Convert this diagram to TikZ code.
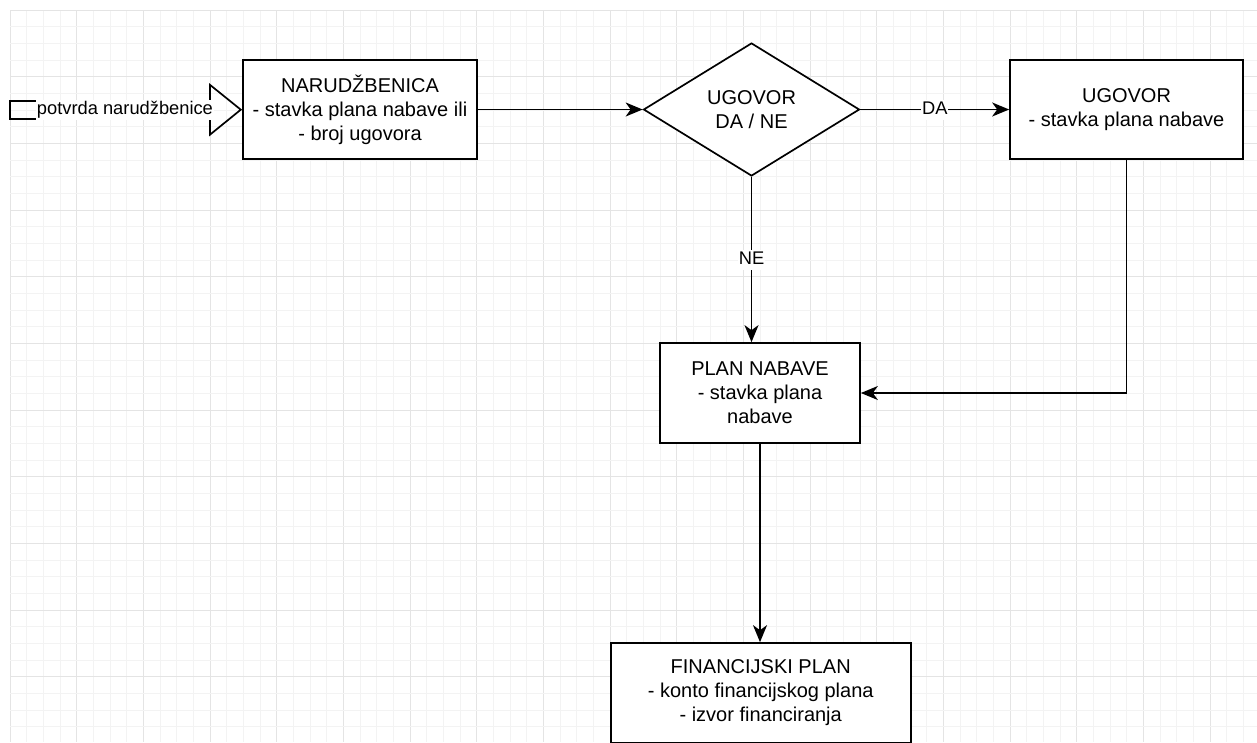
\documentclass[tikz,border=0pt]{standalone}
\usepackage{fontspec}
\setmainfont{Liberation Sans}
\usetikzlibrary{shapes.geometric,arrows.meta}

\definecolor{gridminor}{RGB}{243,243,243}
\definecolor{gridmajor}{RGB}{228,228,228}

\tikzset{
  block/.style={draw=black, line width=1.7pt, fill=white, align=center,
    inner sep=0pt, font=\fontsize{20}{24}\selectfont},
  decision/.style={diamond, aspect=1.6, draw=black, line width=1.7pt, fill=white,
    align=center, inner sep=0pt, font=\fontsize{20}{24}\selectfont},
  flow/.style={line width=1.7pt, -{Stealth[length=17pt, width=14pt, inset=5pt]}},
  edgelabel/.style={fill=white, inner sep=1pt, text height=14pt, text depth=4pt,
    font=\fontsize{18.3}{22}\selectfont}
}

\begin{document}
\begin{tikzpicture}[x=1pt, y=-1pt]
  % Page and background grid
  \useasboundingbox (0,0) rectangle (1257,742);
  \fill[white] (0,0) rectangle (1257,742);
  \foreach \i in {0,...,74} {
    \pgfmathtruncatemacro{\maj}{mod(\i,4)==0}
    \ifnum\maj=1
      \draw[gridmajor, line width=1pt] ({10+\i*16.6667},10) -- ({10+\i*16.6667},742);
    \else
      \draw[gridminor, line width=1pt] ({10+\i*16.6667},10) -- ({10+\i*16.6667},742);
    \fi
  }
  \foreach \j in {0,...,43} {
    \pgfmathtruncatemacro{\maj}{mod(\j,4)==0}
    \ifnum\maj=1
      \draw[gridmajor, line width=1pt] (10,{10+\j*16.6667}) -- (1257,{10+\j*16.6667});
    \else
      \draw[gridminor, line width=1pt] (10,{10+\j*16.6667}) -- (1257,{10+\j*16.6667});
    \fi
  }

  % Boxes and decision
  \node[draw=black, line width=1.7pt, minimum width=36pt, minimum height=18pt,
    inner sep=0pt] (src) at (28,110) {};
  \node[block, minimum width=234pt, minimum height=99pt] (nar) at (360,109.5)
    {NARUDŽBENICA\\- stavka plana nabave ili\\- broj ugovora};
  \node[decision, minimum width=216pt, minimum height=133pt] (ugd) at (751.5,109.5)
    {UGOVOR\\DA / NE};
  \node[block, minimum width=233pt, minimum height=99pt] (ugv) at (1126.5,109.5)
    {UGOVOR\\- stavka plana nabave};
  \node[block, minimum width=200pt, minimum height=100pt] (plan) at (760,393)
    {PLAN NABAVE\\- stavka plana\\nabave};
  \node[block, minimum width=300pt, minimum height=100pt] (fin) at (760.7,693)
    {FINANCIJSKI PLAN\\- konto financijskog plana\\- izvor financiranja};

  % Connectors
  \draw[line width=1.7pt, -{Triangle[open, length=33pt, width=53pt]}] (src) --
    node[edgelabel, pos=0.4] (potvrda) {potvrda narudžbenice} (nar);
  \draw[flow] (nar) -- (ugd);
  \draw[flow] (ugd) -- node[edgelabel] (da) {DA} (ugv);
  \draw[flow] (ugd.south) -- node[edgelabel] (ne) {NE} (ugd.south |- plan.north);
  \draw[flow] (ugv.south) |- (plan.east);
  \draw[flow] (plan.south) -- (plan.south |- fin.north);
\end{tikzpicture}
\end{document}
